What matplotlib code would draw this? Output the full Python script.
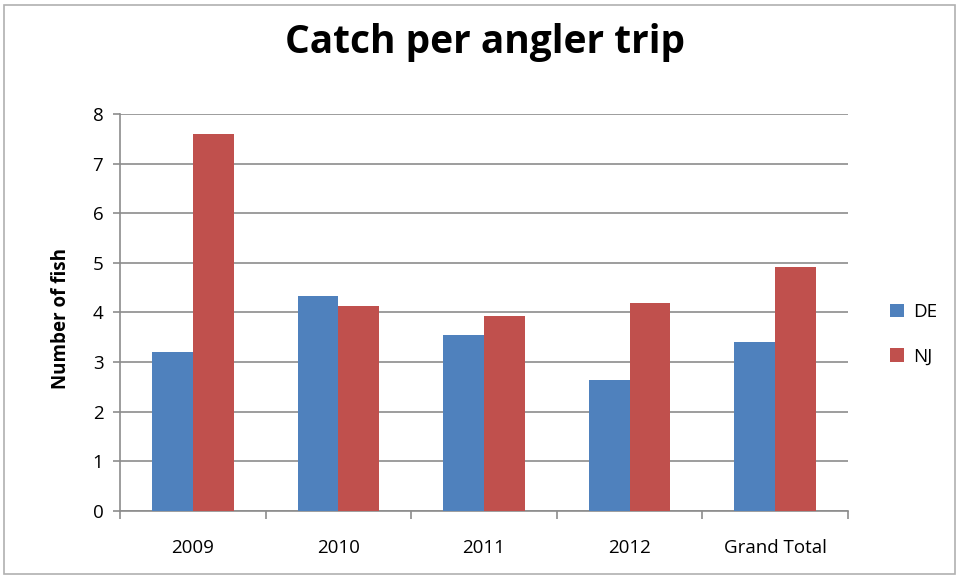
import matplotlib
matplotlib.use("Agg")
import matplotlib.pyplot as plt
from matplotlib.patches import Rectangle
import numpy as np

# catch per angler trip by state
years = ["2009", "2010", "2011", "2012", "Grand Total"]
de_catch = [3.20, 4.33, 3.55, 2.63, 3.40]
nj_catch = [7.60, 4.12, 3.92, 4.18, 4.92]

plt.rcParams["font.family"] = ["Open Sans", "DejaVu Sans"]

fig = plt.figure(figsize=(9.61, 5.78), dpi=100)
ax = fig.add_axes([0.1249, 0.116, 0.7575, 0.687])

x = np.arange(len(years))
w = 0.28
ax.bar(x - w / 2, de_catch, w, color="#4F81BD", label="DE", zorder=3)
ax.bar(x + w / 2, nj_catch, w, color="#C0504D", label="NJ", zorder=3)

ax.set_xlim(-0.5, len(years) - 0.5)
ax.set_ylim(0, 8)
ax.set_yticks(range(0, 9))
ax.yaxis.grid(True, color="#8c8c8c", linewidth=1.2, zorder=0)
ax.tick_params(axis="y", length=5, width=1.2, color="#8c8c8c", labelsize=13.5, pad=7)

# category separators as major ticks, labels centred on minor ticks
ax.set_xticks(np.arange(-0.5, len(years), 1.0))
ax.set_xticklabels([])
ax.set_xticks(x, minor=True)
ax.set_xticklabels(years, minor=True)
ax.tick_params(axis="x", which="major", length=6, width=1.2, color="#8c8c8c")
ax.tick_params(axis="x", which="minor", length=0, labelsize=13.5, pad=20)

for side in ["top", "right"]:
    ax.spines[side].set_visible(False)
for side in ["left", "bottom"]:
    ax.spines[side].set_color("#8c8c8c")
    ax.spines[side].set_linewidth(1.2)

ax.set_ylabel("Number of fish", fontsize=13.5, fontweight="bold")
ax.yaxis.set_label_coords(-0.068, 0.485)
fig.suptitle("Catch per angler trip", x=0.505, y=0.96, fontsize=28, fontweight="bold")

ax.legend(loc="center left", bbox_to_anchor=(1.035, 0.445), frameon=False,
          fontsize=13.5, handlelength=0.75, handleheight=0.75, labelspacing=1.4,
          handletextpad=0.45)

fig.patches.append(Rectangle((0.004, 0.007), 0.99, 0.985, transform=fig.transFigure,
                             fill=False, edgecolor="#b0b0b0", linewidth=1.2))

fig.savefig("out.png", dpi=100)
